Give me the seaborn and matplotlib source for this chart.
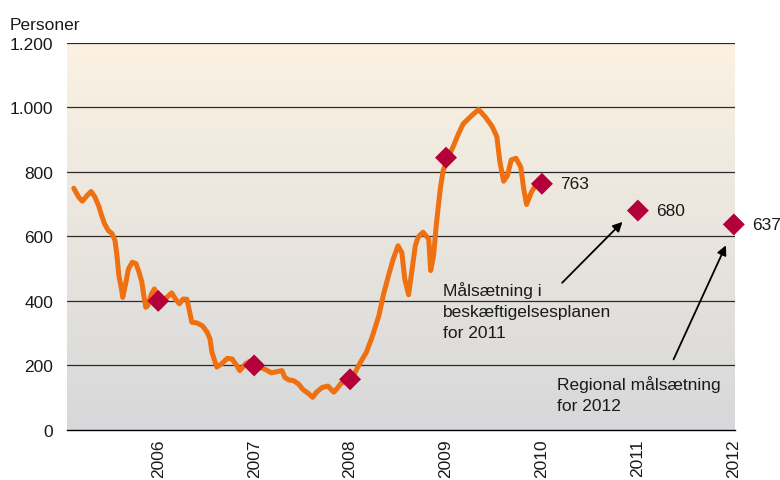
import numpy as np
import pandas as pd
import seaborn as sns
import matplotlib
matplotlib.use("Agg")
import matplotlib.pyplot as plt
from matplotlib.ticker import FuncFormatter

sns.set_theme(style="white")
plt.rcParams['font.family'] = ['Liberation Sans', 'DejaVu Sans']

# monthly-ish trace of the number of persons
line_years = [2005.12, 2005.17, 2005.21, 2005.26, 2005.30, 2005.34, 2005.38, 2005.41,
              2005.44, 2005.48, 2005.52, 2005.55, 2005.57, 2005.59, 2005.62, 2005.63,
              2005.66, 2005.69, 2005.73, 2005.77, 2005.80, 2005.83, 2005.85, 2005.87,
              2005.89, 2005.93, 2005.96, 2005.99, 2006.04, 2006.09, 2006.14, 2006.18,
              2006.22, 2006.26, 2006.30, 2006.35, 2006.40, 2006.46, 2006.51, 2006.54,
              2006.56, 2006.61, 2006.66, 2006.72, 2006.77, 2006.82, 2006.85, 2006.91,
              2006.96, 2007.03, 2007.12, 2007.18, 2007.24, 2007.29, 2007.32, 2007.36,
              2007.41, 2007.46, 2007.51, 2007.57, 2007.61, 2007.65, 2007.71, 2007.77,
              2007.83, 2007.86, 2007.91, 2008.02, 2008.08, 2008.17, 2008.23, 2008.30,
              2008.35, 2008.40, 2008.45, 2008.50, 2008.54, 2008.57, 2008.61, 2008.64,
              2008.68, 2008.71, 2008.76, 2008.82, 2008.84, 2008.87, 2008.90, 2008.94,
              2008.97, 2009.02, 2009.08, 2009.13, 2009.18, 2009.27, 2009.34, 2009.41,
              2009.48, 2009.53, 2009.56, 2009.60, 2009.64, 2009.68, 2009.73, 2009.78,
              2009.81, 2009.84, 2009.89, 2009.93, 2009.97]
line_values = [749, 722, 709, 727, 739, 722, 694, 665,
               639, 618, 608, 587, 540, 478, 432, 411,
               453, 499, 520, 515, 489, 458, 416, 380,
               385, 422, 437, 419, 402, 411, 425, 406,
               391, 406, 405, 334, 332, 323, 303, 282,
               241, 195, 205, 222, 220, 199, 184, 205,
               214, 198, 187, 177, 181, 184, 163, 155,
               153, 143, 125, 112, 101, 117, 132, 136,
               117, 127, 146, 158, 195, 241, 288, 354,
               422, 478, 530, 571, 549, 468, 419, 484,
               571, 598, 613, 592, 494, 540, 639, 747,
               804, 843, 882, 918, 949, 975, 993, 970,
               941, 909, 834, 771, 788, 837, 842, 814,
               747, 699, 737, 757, 763]

# yearly points and targets
target_years = [2006, 2007, 2008, 2009, 2010, 2011, 2012]
target_values = [400, 200, 157, 844, 763, 680, 637]
labelled_years = [2010, 2011, 2012]
labelled_values = [763, 680, 637]

year_ticks = [2006, 2007, 2008, 2009, 2010, 2011, 2012]
y_ticks = [0, 200, 400, 600, 800, 1000, 1200]

trace = pd.DataFrame({"year": line_years, "personer": line_values})
targets = pd.DataFrame({"year": target_years, "personer": target_values})

FS = 12.5

fig = plt.figure(figsize=(7.8, 4.81), dpi=100)
ax = fig.add_axes([0.086, 0.104, 0.856, 0.805])

# background gradient cream -> grey
top_c = np.array([251, 242, 226]) / 255
bot_c = np.array([215, 216, 218]) / 255
t = np.linspace(0, 1, 256)[:, None]
grad = (top_c * (1 - t) + bot_c * t)[:, None, :]
ax.imshow(grad, extent=[0, 1, 0, 1], transform=ax.transAxes, aspect='auto', zorder=0)

for v in y_ticks[1:]:
    ax.axhline(v, color='#2a2a2a', lw=0.9, zorder=1)

sns.lineplot(data=trace, x="year", y="personer", color="#ee7011", lw=3.6,
             ax=ax, zorder=3, sort=False)
sns.scatterplot(data=targets, x="year", y="personer", marker="D", s=125,
                color="#b4003a", edgecolor="none", ax=ax, zorder=4, clip_on=False)

for yr, val in zip(labelled_years, labelled_values):
    ax.annotate(str(val), (yr, val), xytext=(13, 0), textcoords='offset points',
                va='center', ha='left', fontsize=FS, color='#1a1a1a',
                annotation_clip=False)

ax.annotate("", xy=(2010.86, 651), xytext=(2010.19, 450),
            arrowprops=dict(arrowstyle='-|>', color='black', lw=1.3, mutation_scale=14))
ax.annotate("", xy=(2011.93, 580), xytext=(2011.36, 211),
            arrowprops=dict(arrowstyle='-|>', color='black', lw=1.3, mutation_scale=14))
ax.text(2008.97, 369, "Målsætning i\nbeskæftigelsesplanen\nfor 2011", fontsize=FS,
        va='center', ha='left', linespacing=1.5, color='#1a1a1a', zorder=5)
ax.text(2010.16, 112, "Regional målsætning\nfor 2012", fontsize=FS,
        va='center', ha='left', linespacing=1.5, color='#1a1a1a', zorder=5)

ax.set_xlim(2005.05, 2012.01)
ax.set_ylim(0, 1200)
ax.set_xticks(year_ticks)
ax.set_xticklabels([str(y) for y in year_ticks], rotation=90, fontsize=FS, color='#1a1a1a')
ax.set_yticks(y_ticks)
ax.yaxis.set_major_formatter(FuncFormatter(lambda v, p: f"{int(v):,}".replace(",", ".")))
ax.tick_params(axis='y', length=0, pad=10, labelsize=FS, labelcolor='#1a1a1a')
ax.tick_params(axis='x', length=0, pad=6)
ax.set_xlabel("")
ax.set_ylabel("")
for s in ['top', 'right', 'left']:
    ax.spines[s].set_visible(False)
ax.spines['bottom'].set_color('black')
ax.spines['bottom'].set_linewidth(1.0)
ax.spines['bottom'].set_zorder(6)

fig.text(10 / 780, 1 - 25 / 481, "Personer", fontsize=FS, va='center', ha='left', color='#1a1a1a')

fig.savefig("out.png", dpi=100)
